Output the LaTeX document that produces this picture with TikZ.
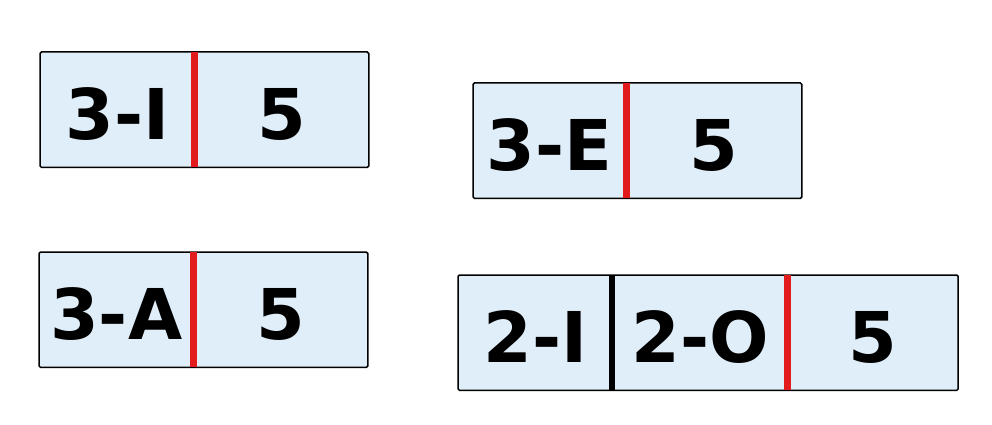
\documentclass[tikz,border=0pt]{standalone}
\usepackage{fontspec}
\setmainfont{DejaVu Sans}
\usetikzlibrary{positioning}
\definecolor{cellblue}{RGB}{224,238,250}
\definecolor{barred}{RGB}{226,28,28}

\begin{document}
\begin{tikzpicture}[x=1pt,y=-1pt,node distance=0pt,
       cell/.style={fill=cellblue,inner sep=0pt,text height=87pt,text depth=28pt,
                    font=\fontsize{70}{84}\selectfont\bfseries},
       frame/.style={draw=black,line width=1.5pt,rounded corners=1.5pt},
       redbar/.style={draw=barred,line width=7pt},
       blackbar/.style={draw=black,line width=6pt}]
       \useasboundingbox (0,0) rectangle (992,425);

       \node[cell,anchor=north west,minimum width=154pt] (i3) at (40,52) {3-I};
       \node[cell,minimum width=174pt,right=of i3] (i5) {5};

       \node[cell,anchor=north west,minimum width=153pt] (e3) at (473,83) {3-E};
       \node[cell,minimum width=175pt,right=of e3] (e5) {5};

       \node[cell,anchor=north west,minimum width=154pt] (a3) at (39,252) {3-A};
       \node[cell,minimum width=174pt,right=of a3] (a5) {5};

       \node[cell,anchor=north west,minimum width=154pt] (o2i) at (458,275) {2-I};
       \node[cell,minimum width=175pt,right=of o2i] (o2o) {2-O};
       \node[cell,minimum width=170pt,right=of o2o] (o5) {5};

       \draw[frame] (i3.north west) rectangle (i5.south east);
       \draw[frame] (e3.north west) rectangle (e5.south east);
       \draw[frame] (a3.north west) rectangle (a5.south east);
       \draw[frame] (o2i.north west) rectangle (o5.south east);

       \draw[redbar] (i3.north east) -- (i3.south east);
       \draw[redbar] (e3.north east) -- (e3.south east);
       \draw[redbar] (a3.north east) -- (a3.south east);
       \draw[blackbar] (o2i.north east) -- (o2i.south east);
       \draw[redbar] (o2o.north east) -- (o2o.south east);
\end{tikzpicture}
\end{document}
